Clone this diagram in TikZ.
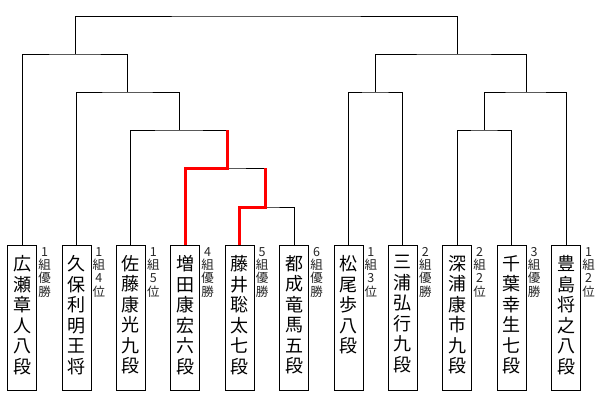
\documentclass[tikz,border=0pt]{standalone}
\usepackage{fontspec}
\newfontfamily\jp{Noto Sans CJK JP}
\usetikzlibrary{positioning}
\tikzset{
  % 棋士
  pl/.style={draw=black,line width=0.8pt,anchor=north,inner xsep=0pt,
             inner ysep=10pt,minimum width=29pt,minimum height=145pt},
  rk/.style={anchor=north,inner sep=0pt,align=center,text=black!85,
             font=\jp\fontsize{12.5}{13.3}\selectfont},
  % 線
  br/.style={draw=black,line width=1pt},
  win/.style={draw=red,line width=3pt},
}
\newcommand{\tate}[1]{\parbox[t][125pt][t]{22pt}{\jp\fontsize{18}{20.5}\selectfont\centering #1}}

\begin{document}
\begin{tikzpicture}[x=1pt,y=-1pt]
  \useasboundingbox (0,0) rectangle (600,400);
  \node[pl] (p1) at (22,245) {\tate{広\\瀬\\章\\人\\八\\段}};
  \node[pl] (p2) at (76.4,245) {\tate{久\\保\\利\\明\\王\\将}};
  \node[pl] (p3) at (130.8,245) {\tate{佐\\藤\\康\\光\\九\\段}};
  \node[pl] (p4) at (185.2,245) {\tate{増\\田\\康\\宏\\六\\段}};
  \node[pl] (p5) at (239.6,245) {\tate{藤\\井\\聡\\太\\七\\段}};
  \node[pl] (p6) at (294,245) {\tate{都\\成\\竜\\馬\\五\\段}};
  \node[pl] (p7) at (348.4,245) {\tate{松\\尾\\歩\\八\\段}};
  \node[pl] (p8) at (402.8,245) {\tate{三\\浦\\弘\\行\\九\\段}};
  \node[pl] (p9) at (457.2,245) {\tate{深\\浦\\康\\市\\九\\段}};
  \node[pl] (p10) at (511.6,245) {\tate{千\\葉\\幸\\生\\七\\段}};
  \node[pl] (p11) at (566,245) {\tate{豊\\島\\将\\之\\八\\段}};
  % 成績
  \node[rk] (r1) at ([xshift=22.5pt,yshift=-2pt]p1.north) {1\\組\\優\\勝};
  \node[rk] (r2) at ([xshift=22.5pt,yshift=-2pt]p2.north) {1\\組\\4\\位};
  \node[rk] (r3) at ([xshift=22.5pt,yshift=-2pt]p3.north) {1\\組\\5\\位};
  \node[rk] (r4) at ([xshift=22.5pt,yshift=-2pt]p4.north) {4\\組\\優\\勝};
  \node[rk] (r5) at ([xshift=22.5pt,yshift=-2pt]p5.north) {5\\組\\優\\勝};
  \node[rk] (r6) at ([xshift=22.5pt,yshift=-2pt]p6.north) {6\\組\\優\\勝};
  \node[rk] (r7) at ([xshift=22.5pt,yshift=-2pt]p7.north) {1\\組\\3\\位};
  \node[rk] (r8) at ([xshift=22.5pt,yshift=-2pt]p8.north) {2\\組\\優\\勝};
  \node[rk] (r9) at ([xshift=22.5pt,yshift=-2pt]p9.north) {2\\組\\2\\位};
  \node[rk] (r10) at ([xshift=22.5pt,yshift=-2pt]p10.north) {3\\組\\優\\勝};
  \node[rk] (r11) at ([xshift=22.5pt,yshift=-2pt]p11.north) {1\\組\\2\\位};
  % 対局
  \coordinate (mA) at (265,207);
  \coordinate (mB) at (227,168);
  \coordinate (mC) at (179,130);
  \coordinate (mD) at (127,92);
  \coordinate (mE) at (75,54);
  \coordinate (mF) at (375,92);
  \coordinate (mG) at (484,130);
  \coordinate (mH) at (526,92);
  \coordinate (mI) at (457,54);
  \coordinate (fin) at (266,16);
  \draw[br] (p5.north) |- (mA) -| (p6.north);
  \draw[br] (p4.north) |- (mB) -| (mA);
  \draw[br] (p3.north) |- (mC) -| (mB);
  \draw[br] (p2.north) |- (mD) -| (mC);
  \draw[br] (p1.north) |- (mE) -| (mD);
  \draw[br] (p7.north) |- (mF) -| (p8.north);
  \draw[br] (p9.north) |- (mG) -| (p10.north);
  \draw[br] (mG) |- (mH) -| (p11.north);
  \draw[br] (mF) |- (mI) -| (mH);
  \draw[br] (mE) |- (fin) -| (mI);
  \draw[win] (p5.north) |- (mA) -- (mA |- mB);
  \draw[win] (p4.north) |- (mB) -- (mB |- mC);
\end{tikzpicture}
\end{document}
